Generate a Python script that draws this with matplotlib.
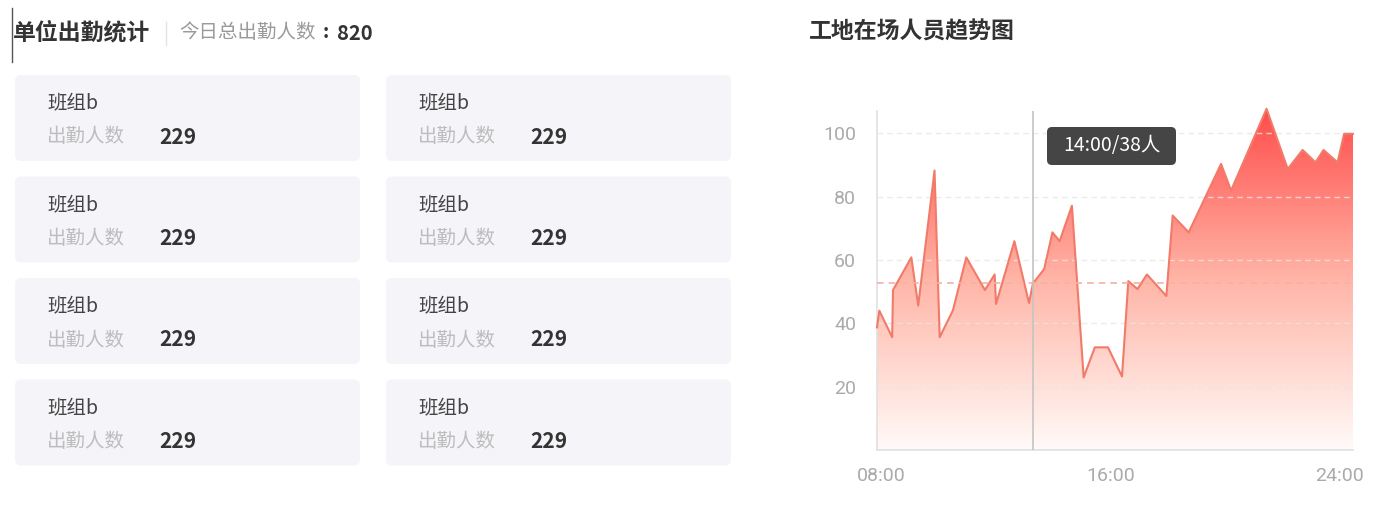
import matplotlib.pyplot as plt
import numpy as np
from matplotlib.patches import FancyBboxPatch, Polygon
from matplotlib.colors import LinearSegmentedColormap

plt.rcParams['font.family'] = ['Noto Sans CJK SC', 'DejaVu Sans']

# on-site headcount over the day (hour of day, people)
hours = [7.85, 7.93, 8.38, 8.41, 9.05, 9.29, 9.86, 10.04, 10.50, 10.97,
         11.62, 11.96, 12.01, 12.65, 13.16, 13.30, 13.69, 13.98, 14.23, 14.66,
         15.07, 15.46, 15.92, 16.41, 16.63, 16.95, 17.28, 17.96, 18.18, 18.74,
         19.87, 20.22, 21.46, 22.20, 22.72, 23.17, 23.45, 23.94, 24.17, 24.48]
people = [38.7, 44.0, 35.6, 50.5, 60.8, 45.6, 88.2, 35.6, 44.0, 60.8,
          50.5, 55.4, 46.1, 65.9, 46.4, 52.6, 57.1, 68.7, 65.9, 77.1,
          22.9, 32.4, 32.4, 23.2, 53.3, 50.8, 55.4, 48.6, 74.0, 68.7,
          90.3, 81.9, 107.7, 88.7, 94.7, 90.8, 94.7, 90.8, 99.8, 99.8]

yticks = [20, 40, 60, 80, 100]
xticks = [8, 16, 24]
xlabels = ['08:00', '16:00', '24:00']

cursor_hour = 13.30
cursor_value = 52.6
tooltip = '14:00/38人'

group_names = ['班组b'] * 8
group_counts = [229] * 8
total_count = 820

fig = plt.figure(figsize=(13.95, 5.05), dpi=100)

# full-figure layer in pixel coordinates for the card panel
bg = fig.add_axes([0, 0, 1, 1])
bg.set_xlim(0, 1395)
bg.set_ylim(505, 0)
bg.axis('off')

bg.plot([12, 12], [8, 62], color='#555555', lw=1)
bg.text(13, 33, '单位出勤统计', fontsize=16.5, weight='bold', color='#333333', va='center')
bg.plot([166, 166], [22, 45], color='#e2e2e2', lw=1)
bg.text(179, 33, '今日总出勤人数', fontsize=14, color='#9a9a9a', va='center')
bg.text(323, 33, ':', fontsize=14, weight='bold', color='#333333', va='center')
bg.text(337, 33, str(total_count), fontsize=14.5, weight='bold', color='#333333', va='center')

for i in range(len(group_names)):
    col = i % 2
    row = i // 2
    x0 = [15, 386][col]
    y0 = 75 + row * 101.5
    card = FancyBboxPatch((x0, y0), 345, 86, boxstyle='round,pad=0,rounding_size=6',
                          fc='#f4f4f9', ec='none')
    bg.add_patch(card)
    bg.text(x0 + 32, y0 + 29, group_names[i], fontsize=14, color='#444444', va='center')
    bg.text(x0 + 32, y0 + 62, '出勤人数', fontsize=14, color='#bdbdbd', va='center')
    bg.text(x0 + 144, y0 + 62, str(group_counts[i]), fontsize=15, weight='bold',
            color='#333333', va='center')

bg.text(809, 32, '工地在场人员趋势图', fontsize=16.5, weight='bold', color='#333333', va='center')

# trend chart
ax = fig.add_axes([877 / 1395, 55 / 505, 476 / 1395, 339 / 505])
ax.set_xlim(hours[0], hours[-1])
ax.set_ylim(0, 107)

cmap = LinearSegmentedColormap.from_list('fill', ['#fffaf8', '#ffb5a7', '#ff4d4b'])
grad = np.linspace(0, 1, 256).reshape(-1, 1)
im = ax.imshow(grad, extent=[hours[0], hours[-1], 0, max(people)], origin='lower',
               aspect='auto', cmap=cmap, zorder=1)
verts = list(zip(hours, people)) + [(hours[-1], 0), (hours[0], 0)]
poly = Polygon(verts, closed=True, fc='none', ec='none')
ax.add_patch(poly)
im.set_clip_path(poly)
ax.plot(hours, people, color='#f27a68', lw=1.5, zorder=4, clip_on=False)

for v in yticks:
    ax.axhline(v, color='#e6e6e6', lw=1, ls=(0, (4, 3)), alpha=0.8, zorder=3)

ax.axvline(cursor_hour, color='#c4c4c4', lw=1.2, zorder=5)
ax.axhline(cursor_value, color='#f3b2a5', lw=1.2, ls=(0, (4, 3)), zorder=5)

ax.set_yticks(yticks)
ax.set_xticks(xticks)
ax.set_xticklabels(xlabels)
ax.tick_params(length=0, labelsize=14, labelcolor='#aaaaaa')
ax.tick_params(axis='y', pad=15)
ax.tick_params(axis='x', pad=12)
for lab in ax.get_xticklabels() + ax.get_yticklabels():
    lab.set_family('Roboto')
for s in ['top', 'right']:
    ax.spines[s].set_visible(False)
for s in ['left', 'bottom']:
    ax.spines[s].set_color('#e0e0e0')
    ax.spines[s].set_linewidth(1.2)
ax.set_facecolor('none')

# tooltip box
tip = FancyBboxPatch((1047, 127), 129, 38, boxstyle='round,pad=0,rounding_size=5',
                     fc='#454545', ec='none', zorder=10)
bg.add_patch(tip)
bg.text(1111.5, 146, tooltip, fontsize=14, color='white', ha='center', va='center', zorder=11)
bg.set_zorder(2)
bg.patch.set_visible(False)

fig.savefig('out.png', dpi=100)
